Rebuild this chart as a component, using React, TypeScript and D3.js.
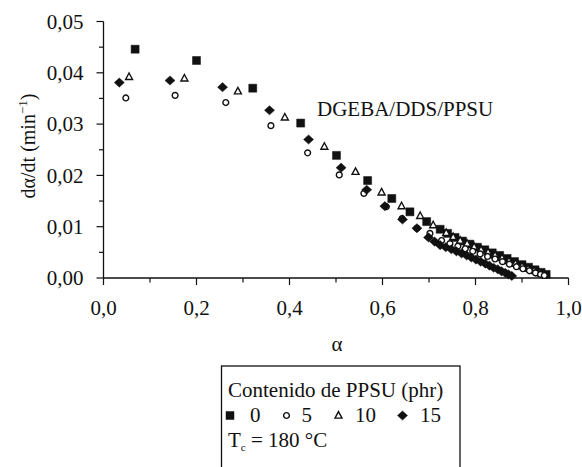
import * as d3 from 'd3'

const WIDTH = 582
const HEIGHT = 467
const PLOT = { left: 103.5, right: 568.5, top: 21.5, bottom: 278 }
const FONT = 'Liberation Serif'
const INK = '#111'

// PPSU content (phr) and marker kind per series
const SERIES_LABELS = ['0', '5', '10', '15']
const SERIES_SHAPES = ['square', 'circle', 'triangle', 'diamond']

// 0 phr (filled squares)
const ALPHA_0 = [0.068, 0.2, 0.321, 0.424, 0.501, 0.568, 0.62, 0.659, 0.695, 0.724, 0.74, 0.756, 0.772, 0.788, 0.804, 0.82, 0.836, 0.852, 0.868, 0.884, 0.9, 0.914, 0.928, 0.941, 0.952]
const RATE_0 = [0.0446, 0.0424, 0.037, 0.0302, 0.0239, 0.019, 0.0155, 0.0129, 0.011, 0.0095, 0.0087, 0.0079, 0.0072, 0.0066, 0.006, 0.0055, 0.0049, 0.0044, 0.0038, 0.0032, 0.0026, 0.0021, 0.0016, 0.0011, 0.0007]

// 5 phr (open circles)
const ALPHA_5 = [0.048, 0.154, 0.263, 0.36, 0.439, 0.507, 0.56, 0.608, 0.642, 0.674, 0.702, 0.727, 0.745, 0.762, 0.778, 0.794, 0.81, 0.826, 0.842, 0.858, 0.873, 0.888, 0.902, 0.916, 0.929, 0.94, 0.948]
const RATE_5 = [0.0351, 0.0356, 0.0342, 0.0297, 0.0244, 0.0201, 0.0165, 0.0139, 0.0116, 0.0097, 0.0087, 0.0073, 0.0067, 0.0062, 0.0057, 0.0052, 0.0047, 0.0042, 0.0037, 0.0032, 0.0027, 0.0022, 0.0018, 0.0014, 0.001, 0.0007, 0.0005]

// 10 phr (open triangles)
const ALPHA_10 = [0.055, 0.174, 0.289, 0.39, 0.475, 0.542, 0.598, 0.641, 0.681, 0.709, 0.737, 0.752, 0.767, 0.782, 0.797, 0.812, 0.827, 0.842, 0.857, 0.872, 0.886, 0.9, 0.913, 0.926, 0.938, 0.949]
const RATE_10 = [0.0392, 0.0389, 0.0364, 0.0313, 0.0256, 0.0207, 0.0167, 0.014, 0.0121, 0.0103, 0.0088, 0.008, 0.0073, 0.0067, 0.0061, 0.0055, 0.005, 0.0044, 0.0039, 0.0033, 0.0028, 0.0023, 0.0018, 0.0014, 0.001, 0.0006]

// 15 phr (filled diamonds)
const ALPHA_15 = [0.034, 0.143, 0.256, 0.357, 0.441, 0.511, 0.566, 0.605, 0.643, 0.674, 0.699, 0.712, 0.724, 0.736, 0.748, 0.759, 0.77, 0.781, 0.791, 0.801, 0.811, 0.821, 0.83, 0.839, 0.848, 0.856, 0.864, 0.871, 0.878]
const RATE_15 = [0.0381, 0.0385, 0.0372, 0.0327, 0.027, 0.0215, 0.0172, 0.014, 0.0114, 0.0097, 0.0079, 0.0071, 0.0064, 0.006, 0.0056, 0.0052, 0.0048, 0.0044, 0.004, 0.0036, 0.0032, 0.0028, 0.0024, 0.002, 0.0017, 0.0013, 0.001, 0.0007, 0.0004]

const X_TICKS = [0, 0.2, 0.4, 0.6, 0.8, 1.0]
const X_MINOR = [0.1, 0.3, 0.5, 0.7, 0.9]
const Y_TICKS = [0, 0.01, 0.02, 0.03, 0.04, 0.05]
const Y_MINOR = [0.005, 0.015, 0.025, 0.035, 0.045]

// draw order: squares, triangles, circles, diamonds
const DRAW_ORDER = [0, 2, 1, 3]

const x = d3.scaleLinear().domain([0, 1]).range([PLOT.left, PLOT.right])
const y = d3.scaleLinear().domain([0, 0.05]).range([PLOT.bottom, PLOT.top])
const comma = (f: string) => (d: number) => d3.format(f)(d).replace('.', ',')

const SERIES = [
  ALPHA_0.map((a, i) => [a, RATE_0[i]]),
  ALPHA_5.map((a, i) => [a, RATE_5[i]]),
  ALPHA_10.map((a, i) => [a, RATE_10[i]]),
  ALPHA_15.map((a, i) => [a, RATE_15[i]]),
]

function markerPath(shape: string) {
  switch (shape) {
    case 'square':
      return 'M-4,-4H4V4H-4Z'
    case 'triangle':
      return 'M0,-3.9L3.5,2.6H-3.5Z'
    case 'diamond':
      return 'M0,-4.6L5,0L0,4.6L-5,0Z'
    default:
      return d3.arc()({ innerRadius: 0, outerRadius: 2.9, startAngle: 0, endAngle: 2 * Math.PI }) ?? ''
  }
}

function Marker({ shape, cx, cy }: { shape: string; cx: number; cy: number }) {
  const filled = shape === 'square' || shape === 'diamond'
  return (
    <path
      d={markerPath(shape)}
      transform={`translate(${cx},${cy})`}
      fill={filled ? INK : '#fff'}
      stroke={INK}
      strokeWidth={filled ? 0.5 : 1.4}
    />
  )
}

export default function App() {
  const fmtY = comma('.2f')
  const fmtX = comma('.1f')
  const txt = { fontFamily: FONT, fontSize: 21, fill: INK }

  return (
    <svg
      width={WIDTH}
      height={HEIGHT}
      style={{ position: 'absolute', left: 0, top: 0, background: '#fff' }}
    >
      {/* Y axis */}
      <line x1={PLOT.left} x2={PLOT.left} y1={y(0.05)} y2={PLOT.bottom} stroke={INK} strokeWidth={1.3} />
      {Y_TICKS.map((t) => (
        <g key={t} transform={`translate(${PLOT.left},${y(t)})`}>
          <line x1={-7} x2={0} stroke={INK} strokeWidth={1.2} />
          <text x={-20} dy="0.34em" textAnchor="end" {...txt}>{fmtY(t)}</text>
        </g>
      ))}
      {Y_MINOR.map((t) => (
        <line key={t} x1={PLOT.left - 4.5} x2={PLOT.left} y1={y(t)} y2={y(t)} stroke={INK} strokeWidth={1.2} />
      ))}

      {/* X axis */}
      <line x1={PLOT.left} x2={x(1)} y1={PLOT.bottom} y2={PLOT.bottom} stroke={INK} strokeWidth={1.3} />
      {X_TICKS.map((t) => (
        <g key={t} transform={`translate(${x(t)},${PLOT.bottom})`}>
          <line y1={0} y2={7} stroke={INK} strokeWidth={1.2} />
          <text y={37} textAnchor="middle" {...txt}>{fmtX(t)}</text>
        </g>
      ))}
      {X_MINOR.map((t) => (
        <line key={t} x1={x(t)} x2={x(t)} y1={PLOT.bottom} y2={PLOT.bottom + 4.5} stroke={INK} strokeWidth={1.2} />
      ))}

      {/* Axis titles */}
      <text transform="translate(35,146) rotate(-90)" textAnchor="middle" {...txt} fontSize={20}>
        <tspan>dα/dt (min</tspan>
        <tspan fontSize={13} dy={-8}>−1</tspan>
        <tspan dy={8}>)</tspan>
      </text>
      <text x={337} y={351} textAnchor="middle" {...txt}>α</text>
      <text x={317} y={116} {...txt}>DGEBA/DDS/PPSU</text>

      {/* Points */}
      {DRAW_ORDER.map((si) => (
        <g key={si}>
          {SERIES[si].map((d, i) => (
            <Marker key={i} shape={SERIES_SHAPES[si]} cx={x(d[0])} cy={y(d[1])} />
          ))}
        </g>
      ))}

      {/* Legend */}
      <rect x={221.5} y={366} width={238.5} height={120} fill="none" stroke={INK} strokeWidth={1.3} />
      <text x={228} y={397} {...txt}>Contenido de PPSU (phr)</text>
      {SERIES_LABELS.map((label, i) => {
        const markerX = [230, 286.5, 338.5, 402.5][i]
        const labelX = [250, 301.5, 355, 420][i]
        return (
          <g key={label}>
            <Marker shape={SERIES_SHAPES[i]} cx={markerX} cy={415.5} />
            <text x={labelX} y={422} {...txt}>{label}</text>
          </g>
        )
      })}
      <text x={228} y={447} {...txt}>
        <tspan>T</tspan>
        <tspan fontSize={11} dy={4}>c</tspan>
        <tspan dy={-4}> = 180 °C</tspan>
      </text>
    </svg>
  )
}
